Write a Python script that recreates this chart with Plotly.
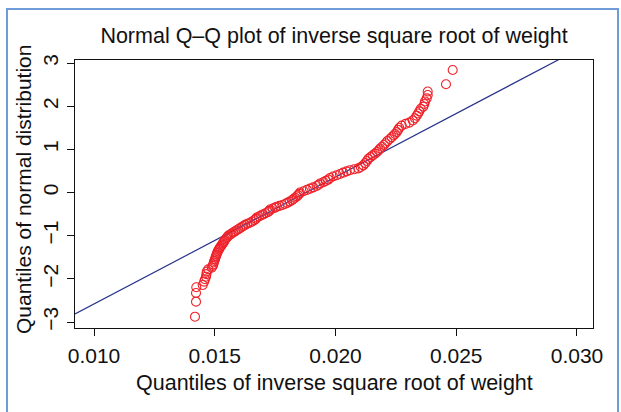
import plotly.graph_objects as go

# Sample quantiles (inverse square root of weight) and matching normal quantiles
sample_q = [
    0.014182, 0.014224, 0.014224, 0.014235, 0.014501, 0.014560, 0.014596, 0.014638,
    0.014655, 0.014667, 0.014733, 0.014874, 0.014915, 0.014940, 0.014960, 0.014981,
    0.015010, 0.015030, 0.015052, 0.015075, 0.015100, 0.015122, 0.015160, 0.015190,
    0.015217, 0.015260, 0.015300, 0.015329, 0.015370, 0.015400, 0.015424, 0.015480,
    0.015520, 0.015561, 0.015640, 0.015700, 0.015768, 0.015840, 0.015910, 0.015975,
    0.016050, 0.016120, 0.016182, 0.016260, 0.016350, 0.016460, 0.016550, 0.016640,
    0.016700, 0.016737, 0.016830, 0.016920, 0.017010, 0.017100, 0.017200, 0.017260,
    0.017288, 0.017400, 0.017500, 0.017565, 0.017680, 0.017800, 0.017909, 0.018000,
    0.018100, 0.018200, 0.018253, 0.018330, 0.018400, 0.018447, 0.018500, 0.018530,
    0.018680, 0.018820, 0.018944, 0.019080, 0.019220, 0.019300, 0.019358, 0.019500,
    0.019600, 0.019700, 0.019772, 0.019900, 0.020050, 0.020186, 0.020320, 0.020460,
    0.020600, 0.020780, 0.020944, 0.021050, 0.021151, 0.021230, 0.021300, 0.021358,
    0.021450, 0.021540, 0.021636, 0.021720, 0.021790, 0.021843, 0.021930, 0.022008,
    0.022070, 0.022145, 0.022250, 0.022327, 0.022400, 0.022464, 0.022534, 0.022590,
    0.022642, 0.022741, 0.022900, 0.023056, 0.023200, 0.023292, 0.023362, 0.023420,
    0.023470, 0.023528, 0.023636, 0.023680, 0.023706, 0.023776, 0.023818, 0.023818,
    0.024576, 0.024853,
]
normal_q = [
    -2.877, -2.529, -2.328, -2.195, -2.142, -2.065, -2.010, -1.950,
    -1.890, -1.834, -1.780, -1.740, -1.700, -1.665, -1.620, -1.585,
    -1.545, -1.505, -1.470, -1.435, -1.400, -1.365, -1.330, -1.300,
    -1.270, -1.240, -1.210, -1.180, -1.150, -1.120, -1.090, -1.060,
    -1.030, -1.000, -0.975, -0.950, -0.925, -0.900, -0.875, -0.850,
    -0.825, -0.800, -0.775, -0.750, -0.725, -0.700, -0.670, -0.640,
    -0.610, -0.580, -0.555, -0.530, -0.505, -0.480, -0.455, -0.425,
    -0.395, -0.370, -0.350, -0.330, -0.310, -0.290, -0.265, -0.240,
    -0.210, -0.180, -0.150, -0.120, -0.090, -0.060, -0.030, 0.000,
    0.030, 0.060, 0.090, 0.120, 0.150, 0.180, 0.210, 0.240,
    0.270, 0.300, 0.335, 0.370, 0.400, 0.430, 0.460, 0.490,
    0.515, 0.540, 0.560, 0.590, 0.630, 0.680, 0.730, 0.780,
    0.820, 0.860, 0.900, 0.940, 0.980, 1.020, 1.060, 1.100,
    1.140, 1.190, 1.240, 1.280, 1.320, 1.355, 1.400, 1.450,
    1.500, 1.550, 1.590, 1.620, 1.670, 1.720, 1.780, 1.830,
    1.880, 1.940, 1.990, 2.050, 2.110, 2.180, 2.260, 2.340,
    2.507, 2.838,
]

# Reference line y = intercept + slope * x
line_slope = 294.2
line_intercept = -5.5245

x_range = [0.009213, 0.030663]
y_range = [-3.139, 3.07]
x_ticks = [0.010, 0.015, 0.020, 0.025, 0.030]
x_tick_text = ["0.010", "0.015", "0.020", "0.025", "0.030"]
y_ticks = [-3, -2, -1, 0, 1, 2, 3]
y_tick_text = ["\u22123", "\u22122", "\u22121", "0", "1", "2", "3"]

FONT = "Liberation Sans, Arial, Helvetica, sans-serif"
W, H = 621, 412
L, R, T, B = 75, 28, 60, 84

line_x = x_range
line_y = [line_intercept + line_slope * v for v in line_x]

fig = go.Figure()
fig.add_trace(go.Scatter(
    x=line_x, y=line_y, mode="lines",
    line=dict(color="#27348b", width=1.2),
    hoverinfo="skip", showlegend=False,
))
fig.add_trace(go.Scatter(
    x=sample_q, y=normal_q, mode="markers",
    marker=dict(symbol="circle-open", size=9, color="#f0222a",
                line=dict(width=1.1, color="#f0222a")),
    showlegend=False,
))

axis_common = dict(
    showline=True, linecolor="#111111", linewidth=1, mirror=True,
    ticks="outside", ticklen=7, tickwidth=1, tickcolor="#111111",
    showgrid=False, zeroline=False,
    tickfont=dict(family=FONT, size=21, color="#111111"),
)
fig.update_xaxes(range=x_range, tickmode="array", tickvals=x_ticks,
                 ticktext=x_tick_text, ticklabelstandoff=2, **axis_common)
fig.update_yaxes(range=y_range, tickmode="array", tickvals=y_ticks,
                 ticktext=y_tick_text, tickangle=-90, ticklabelstandoff=1,
                 **axis_common)


def px_x(p):
    return (p - L) / (W - L - R)


def px_y(p):
    return (H - B - p) / (H - T - B)


fig.update_layout(
    width=W, height=H,
    margin=dict(l=L, r=R, t=T, b=B, pad=0),
    paper_bgcolor="white", plot_bgcolor="white",
    title=dict(text="Normal Q\u2013Q plot of inverse square root of weight",
               font=dict(family=FONT, size=21.5, color="#111111"),
               x=px_x(334), xref="paper", xanchor="center",
               y=1 - 35 / H, yref="container", yanchor="middle"),
    annotations=[
        dict(text="Quantiles of inverse square root of weight",
             x=px_x(334), y=px_y(383), xref="paper", yref="paper",
             xanchor="center", yanchor="middle", showarrow=False,
             font=dict(family=FONT, size=21.5, color="#111111")),
        dict(text="Quantiles of normal distribution",
             x=px_x(23), y=px_y(190), xref="paper", yref="paper",
             xanchor="center", yanchor="middle", showarrow=False,
             textangle=-90,
             font=dict(family=FONT, size=21, color="#111111")),
    ],
    shapes=[
        dict(type="rect", xref="paper", yref="paper",
             x0=px_x(7), x1=px_x(618), y0=px_y(9), y1=px_y(416),
             line=dict(color="#6f9bd8", width=2), layer="below"),
    ],
)

fig.write_html("out.html")
